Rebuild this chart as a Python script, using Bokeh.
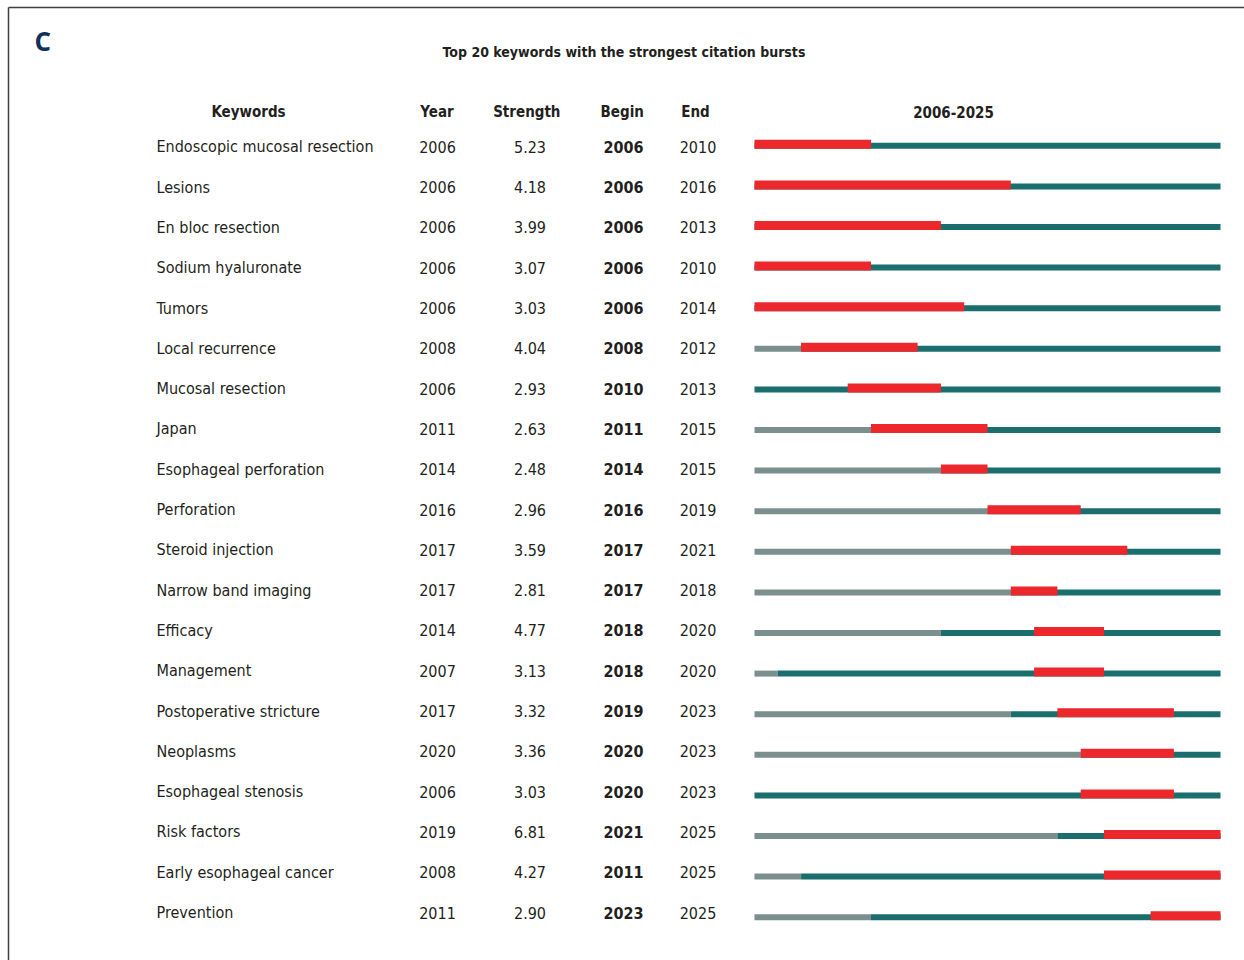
from bokeh.plotting import figure
from bokeh.models import Range1d
from bokeh.core.properties import value
from bokeh.embed import file_html
from bokeh.resources import INLINE

# ---------------- data ----------------
keywords = [
    "Endoscopic mucosal resection", "Lesions", "En bloc resection", "Sodium hyaluronate",
    "Tumors", "Local recurrence", "Mucosal resection", "Japan", "Esophageal perforation",
    "Perforation", "Steroid injection", "Narrow band imaging", "Efficacy", "Management",
    "Postoperative stricture", "Neoplasms", "Esophageal stenosis", "Risk factors",
    "Early esophageal cancer", "Prevention",
]
first_year = [2006, 2006, 2006, 2006, 2006, 2008, 2006, 2011, 2014, 2016,
              2017, 2017, 2014, 2007, 2017, 2020, 2006, 2019, 2008, 2011]
strength = [5.23, 4.18, 3.99, 3.07, 3.03, 4.04, 2.93, 2.63, 2.48, 2.96,
            3.59, 2.81, 4.77, 3.13, 3.32, 3.36, 3.03, 6.81, 4.27, 2.90]
burst_begin = [2006, 2006, 2006, 2006, 2006, 2008, 2010, 2011, 2014, 2016,
               2017, 2017, 2018, 2018, 2019, 2020, 2020, 2021, 2021, 2023]
begin_printed = [2006, 2006, 2006, 2006, 2006, 2008, 2010, 2011, 2014, 2016,
                 2017, 2017, 2018, 2018, 2019, 2020, 2020, 2021, 2011, 2023]
burst_end = [2010, 2016, 2013, 2010, 2014, 2012, 2013, 2015, 2015, 2019,
             2021, 2018, 2020, 2020, 2023, 2023, 2023, 2025, 2025, 2025]
period_start, period_end = 2006, 2025

title = "Top 20 keywords with the strongest citation bursts"
headers = ["Keywords", "Year", "Strength", "Begin", "End", f"{period_start}-{period_end}"]

# ---------------- layout ----------------
W, H = 1244, 960
FONT = "DejaVu Sans Condensed, Liberation Sans Narrow, Lato, sans-serif"
INK = "#231F20"
RED = "#EC282D"
TEAL = "#1A6E6D"
GRAY = "#7B8F8E"
SHIFT = 7  # baseline correction (px)

px_per_year = (1220 - 754) / (period_end + 1 - period_start)
xs = period_start - 754 / px_per_year
xe = xs + W / px_per_year

ROW_BAR, BAR0 = 40.6, 148.3      # bar bottom of row 0 (px from top), row pitch
ROW_TXT, TXT0 = 40.3, 153.3 - SHIFT

p = figure(width=W, height=H, output_backend="svg", toolbar_location=None,
           x_range=Range1d(xs, xe),
           y_range=Range1d((H - BAR0) / ROW_BAR, -BAR0 / ROW_BAR),
           x_axis_location=None, y_axis_location=None, min_border=0)
p.grid.visible = False
p.outline_line_color = None
p.background_fill_color = "white"
p.border_fill_color = "white"

p.extra_x_ranges = {"px": Range1d(0, W)}
p.extra_y_ranges = {"py": Range1d(H, 0),
                    "txt": Range1d((H - TXT0) / ROW_TXT, -TXT0 / ROW_TXT)}

n = len(keywords)
rows = list(range(n))
thin = 6 / ROW_BAR
thick = 9 / ROW_BAR

# bars
p.quad(left=[period_start] * n, right=first_year, bottom=rows,
       top=[r - thin for r in rows], fill_color=GRAY, line_color=None)
p.quad(left=first_year, right=[period_end + 1] * n, bottom=rows,
       top=[r - thin for r in rows], fill_color=TEAL, line_color=None)
p.quad(left=burst_begin, right=[e + 1 for e in burst_end], bottom=rows,
       top=[r - thick for r in rows], fill_color=RED, line_color=None)

# table text
common = dict(x_range_name="px", y_range_name="txt", text_color=INK,
              text_font=value(FONT), text_font_size="16px", text_baseline="alphabetic")
p.text(x=[156] * n, y=rows, text=keywords, text_align="left", **common)
p.text(x=[437] * n, y=rows, text=[str(v) for v in first_year], text_align="center", **common)
p.text(x=[529.5] * n, y=rows, text=[f"{v:.2f}" for v in strength], text_align="center", **common)
p.text(x=[623] * n, y=rows, text=[str(v) for v in begin_printed], text_align="center",
       text_font_style="bold", **common)
p.text(x=[697.5] * n, y=rows, text=[str(v) for v in burst_end], text_align="center", **common)

# headers
hx = [248, 436.5, 526.3, 621.7, 695, 953]
p.text(x=hx, y=[118.3 - SHIFT] * len(headers), text=headers, x_range_name="px", y_range_name="py",
       text_align="center", text_baseline="alphabetic", text_color=INK,
       text_font=value(FONT), text_font_size="15px", text_font_style="bold")

# title
p.text(x=[623.5], y=[58.3 - SHIFT], text=[title], x_range_name="px", y_range_name="py",
       text_align="center", text_baseline="alphabetic", text_color=INK,
       text_font=value(FONT), text_font_size="14px", text_font_style="bold")

# panel letter
p.text(x=[34], y=[49 - 9], text=["C"], x_range_name="px", y_range_name="py",
       text_align="left", text_baseline="alphabetic", text_color="#0F2F5C",
       text_font=value("Open Sans"), text_font_size="26px", text_font_style="bold")

# frame lines (top and left)
p.segment(x0=[8, 8], y0=[7, 7], x1=[W, 8], y1=[7, H], x_range_name="px", y_range_name="py",
          line_color="#3F3F3F", line_width=1.5)

open("out.html", "w").write(file_html(p, INLINE))
